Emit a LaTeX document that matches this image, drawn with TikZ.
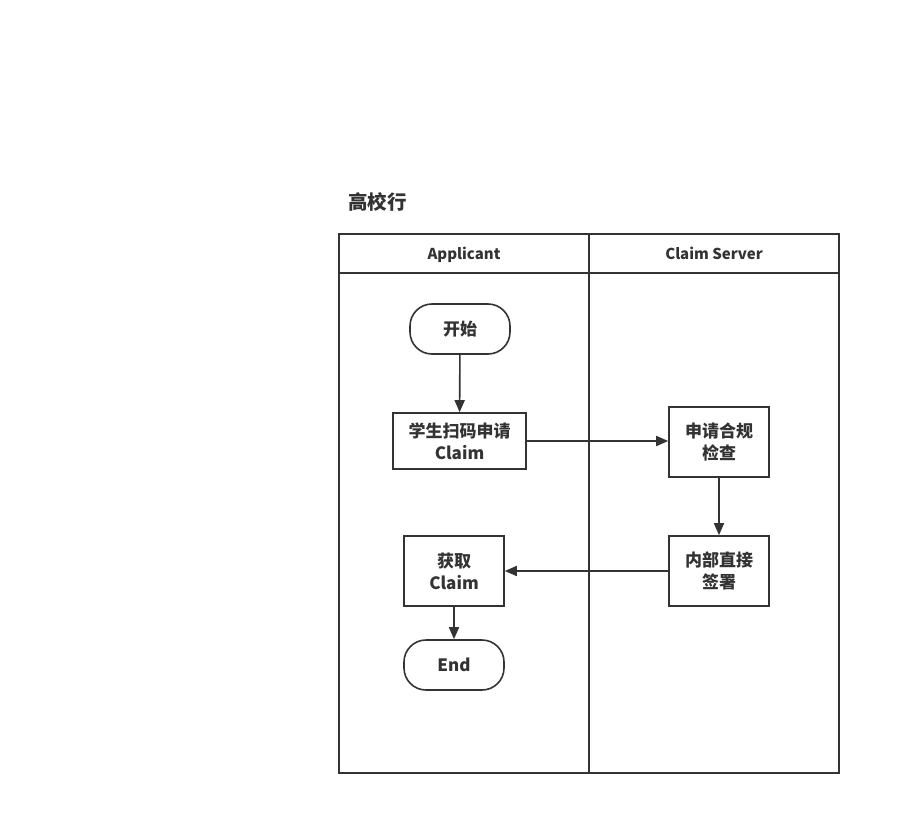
\documentclass[tikz,border=0pt]{standalone}
\usepackage{fontspec}
\setmainfont{Noto Sans CJK SC}
\usepackage{tikz}
\usetikzlibrary{arrows.meta}
\definecolor{ink}{HTML}{333333}

\begin{document}
\begin{tikzpicture}[x=1pt,y=-1pt,line width=1.6pt,draw=ink,text=ink,
  >={Triangle[length=12pt,width=10pt]},
  box/.style={draw,fill=white,inner sep=0pt,align=center,font=\fontsize{17}{22}\selectfont\bfseries},
  term/.style={box,rounded corners=22pt},
  lanehead/.style={anchor=base,font=\fontsize{15}{18}\selectfont\bfseries}]
 \useasboundingbox (0,0) rectangle (900,835);
 % pool
 \node[anchor=west,font=\fontsize{19.5}{22}\selectfont\bfseries] (T) at (344,202) {高校行};
 \draw (339,234) rectangle (839,773);
 \draw (339,273) -- (839,273);
 \draw (589,234) -- (589,773);
 \node[lanehead] (L1) at (464,259.5) {Applicant};
 \node[lanehead] (L2) at (714,259.5) {Claim Server};
 % steps
 \node[term,minimum width=100pt,minimum height=50pt] (S0) at (460,329) {开始};
 \node[box,minimum width=133pt,minimum height=56pt] (S1) at (459.5,441) {学生扫码申请\\Claim};
 \node[box,minimum width=100pt,minimum height=70pt] (S2) at (719,442) {申请合规\\检查};
 \node[box,minimum width=100pt,minimum height=70pt] (S3) at (719,571) {内部直接\\签署};
 \node[box,minimum width=100pt,minimum height=70pt] (S4) at (454,571) {获取\\Claim};
 \node[term,minimum width=100pt,minimum height=50pt] (S5) at (454,665) {End};
 \draw[->] (S0) to (S1);
 \draw[->] (S1.east) to (S2.west |- S1.east);
 \draw[->] (S2) to (S3);
 \draw[->] (S3) to (S4);
 \draw[->] (S4) to (S5);
\end{tikzpicture}
\end{document}
